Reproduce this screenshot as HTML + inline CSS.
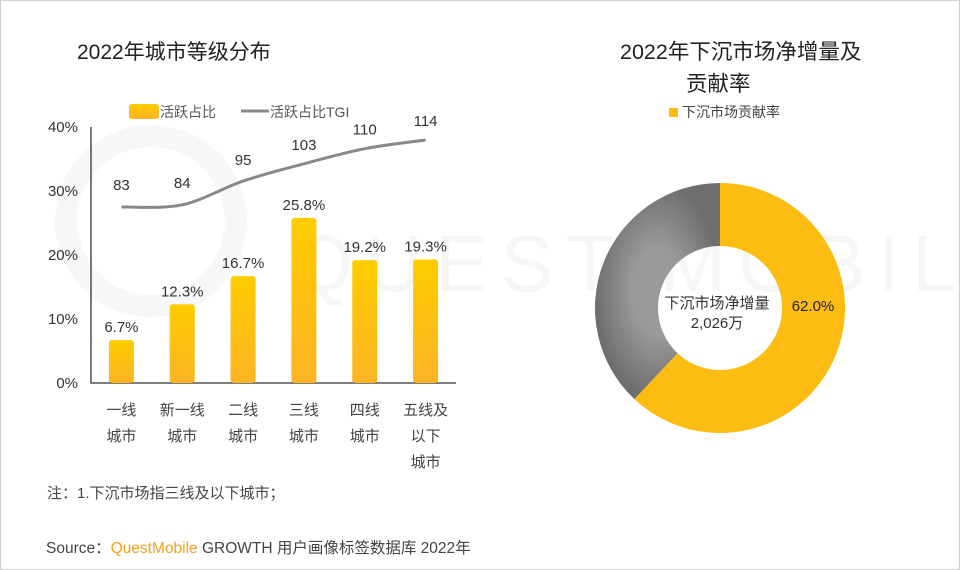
<!DOCTYPE html>
<html><head><meta charset="utf-8">
<style>
body{margin:0;background:#fff;}
#root{position:relative;width:958px;height:568px;border:1px solid #cfcfcf;overflow:hidden;font-family:"Liberation Sans","Noto Sans CJK SC",sans-serif;}
svg text{font-family:"Liberation Sans","Noto Sans CJK SC",sans-serif;}
</style></head>
<body>
<div id="root">
<svg id="svg" width="958" height="568">
<defs>
<linearGradient id="barg" x1="0" y1="0" x2="0" y2="1"><stop offset="0" stop-color="#ffcc00"/><stop offset="1" stop-color="#fbb424"/></linearGradient>
<radialGradient id="grayg" cx="0.5" cy="0.5" r="0.5"><stop offset="0.4" stop-color="#9a9a9a"/><stop offset="1" stop-color="#6e6e6e"/></radialGradient>
</defs>
<g opacity="0.03" fill="none" stroke="#000">
<circle cx="150" cy="220" r="85" stroke-width="22"/>
<text x="290" y="290" font-size="80" fill="#000" stroke="none" letter-spacing="12">QUEST MOBILE</text>
</g>
<text x="76" y="58" font-size="21" fill="#222">2022年城市等级分布</text>
<text x="619" y="58" font-size="21.5" fill="#222">2022年下沉市场净增量及</text>
<text x="685" y="90" font-size="21.5" fill="#222">贡献率</text>
<g><rect x="128" y="103" width="30" height="15" rx="3" fill="url(#barg)"/><text x="159" y="116" font-size="14" fill="#555">活跃占比</text></g>
<g><line x1="240" y1="110" x2="268" y2="110" stroke="#888" stroke-width="3"/><text x="269" y="116" font-size="14" fill="#555">活跃占比TGI</text></g>
<g id="bars"></g>
<g><rect x="668" y="107" width="9" height="9" fill="#fdbc12"/><text x="681" y="116" font-size="14" fill="#444">下沉市场贡献率</text></g>
<g id="donut"></g>
<text x="46" y="497" font-size="15" fill="#444">注：1.下沉市场指三线及以下城市；</text>
<text x="45" y="552" font-size="15.5" fill="#444">Source：<tspan fill="#f7a21b">QuestMobile</tspan> GROWTH 用户画像标签数据库 2022年</text>
</svg>
</div>
<script>
const categories=[["一线","城市"],["新一线","城市"],["二线","城市"],["三线","城市"],["四线","城市"],["五线及","以下","城市"]];
const shareValues=[6.7,12.3,16.7,25.8,19.2,19.3];
const tgiValues=[83,84,95,103,110,114];
const yTicks=[0,10,20,30,40];
const donutShare=62.0;
const donutCenterLabel=["下沉市场净增量","2,026万"];
const NS="http://www.w3.org/2000/svg";
function mk(t,a,p){const e=document.createElementNS(NS,t);for(const k in a)e.setAttribute(k,a[k]);p.appendChild(e);return e;}
const g=document.getElementById('bars');
const x0=90,x1=455,y0=382,yTop=126;
const yS=v=>y0-(v/40)*(y0-yTop);
const step=(x1-x0)/categories.length;
const xC=i=>x0+step*(i+0.5);
const yT=v=>206-(v-83)*2.16;
yTicks.forEach(t=>{const e=mk('text',{x:77,y:yS(t)+5,'font-size':15,fill:'#333','text-anchor':'end'},g);e.textContent=t+'%';

});
const ax=mk('path',{d:`M${x0} ${yTop}V${y0}H${x1}`,stroke:'#333','stroke-width':1.3,fill:'none'},g);


shareValues.forEach((v,i)=>{const bw=25;
const r=mk('rect',{x:xC(i)-bw/2,y:yS(v),width:bw,height:y0-yS(v),rx:3,fill:'url(#barg)'},g);


const l=mk('text',{x:xC(i),y:yS(v)-8,'font-size':15,fill:'#333','text-anchor':'middle'},g);l.textContent=v.toFixed(1)+'%';


categories[i].forEach((s,j)=>{const c=mk('text',{x:xC(i),y:414+j*26,'font-size':15,fill:'#444','text-anchor':'middle'},g);c.textContent=s;

});});
const pts=tgiValues.map((v,i)=>[xC(i),yT(v)]);
let d=`M${pts[0][0]} ${pts[0][1]}`;
for(let i=0;i<pts.length-1;i++){const p0=pts[Math.max(i-1,0)],p1=pts[i],p2=pts[i+1],p3=pts[Math.min(i+2,pts.length-1)];
d+=` C${p1[0]+(p2[0]-p0[0])/6} ${p1[1]+(p2[1]-p0[1])/6},${p2[0]-(p3[0]-p1[0])/6} ${p2[1]-(p3[1]-p1[1])/6},${p2[0]} ${p2[1]}`;}
const ln=mk('path',{d,stroke:'#888','stroke-width':3,fill:'none'},g);


tgiValues.forEach((v,i)=>{const t=mk('text',{x:xC(i),y:yT(v)-(i<2?17:i==2?16:14),'font-size':15,fill:'#333','text-anchor':'middle'},g);t.textContent=v;

});
const dg=document.getElementById('donut');
const cx=719,cy=307,R=125,r=62;
function arc(a0,a1){const p=(a,rr)=>[cx+rr*Math.sin(a),cy-rr*Math.cos(a)];const L=(a1-a0)>Math.PI?1:0;
const [ax0,ay0]=p(a0,R),[ax1,ay1]=p(a1,R),[bx1,by1]=p(a1,r),[bx0,by0]=p(a0,r);
return `M${ax0} ${ay0}A${R} ${R} 0 ${L} 1 ${ax1} ${ay1}L${bx1} ${by1}A${r} ${r} 0 ${L} 0 ${bx0} ${by0}Z`;}
const a=donutShare/100*2*Math.PI;
const s1=mk('path',{d:arc(0,a),fill:'#fdbc12'},dg);


const s2=mk('path',{d:arc(a,2*Math.PI-0.0001),fill:'url(#grayg)'},dg);


const pl=mk('text',{x:812,y:310,'font-size':15,fill:'#222','text-anchor':'middle'},dg);pl.textContent=donutShare.toFixed(1)+'%';


donutCenterLabel.forEach((s,j)=>{const t=mk('text',{x:716,y:307+j*20,'font-size':15,fill:'#333','text-anchor':'middle'},dg);t.textContent=s;

});
</script>
</body></html>
